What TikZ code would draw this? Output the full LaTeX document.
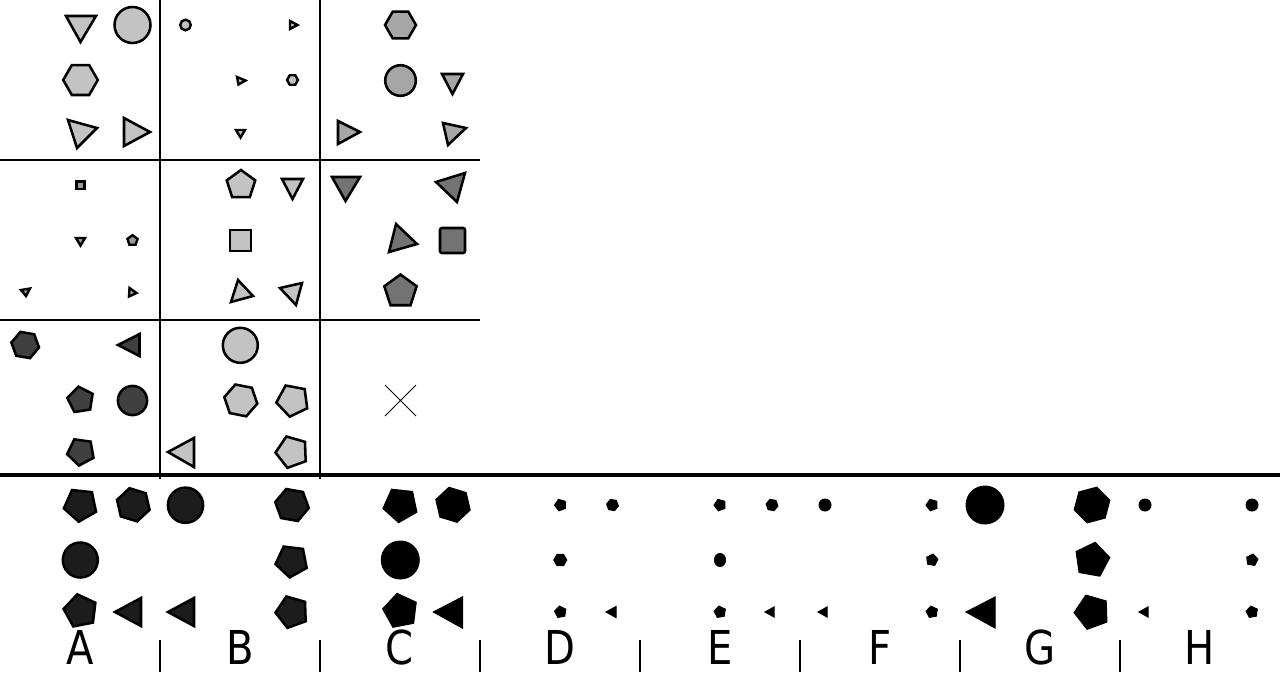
\documentclass[tikz,border=0pt]{standalone}
\usepackage{fontspec}
\newfontfamily\lblfont[FakeStretch=0.86]{DejaVu Sans}
\begin{document}
\begin{tikzpicture}[x=0.75pt,y=-0.75pt,
  sh/.style={draw=black,line width=1.9pt},
  tiny/.style={draw=black,line width=1.8pt},
  solid/.style={draw=black,fill=black,line width=0.75pt},
  grid/.style={draw=black,line width=1.5pt},
  lbl/.style={font=\lblfont\fontsize{35}{35}\selectfont,inner sep=0pt,anchor=base}]
\definecolor{ca}{HTML}{C3C3C3}
\definecolor{cb}{HTML}{A6A6A6}
\definecolor{cc}{HTML}{737373}
\definecolor{cd}{HTML}{404040}
\definecolor{ce}{HTML}{1C1C1C}
\definecolor{cf}{HTML}{999999}
\newcommand\pent[5]{\draw[#5,shift={(#1,#2)}] ({#4-90}:#3) -- ({#4-18}:#3) -- ({#4+54}:#3) -- ({#4+126}:#3) -- ({#4+198}:#3) -- cycle;}
\newcommand\hexa[5]{\draw[#5,shift={(#1,#2)}] ({#4}:#3) -- ({#4+60}:#3) -- ({#4+120}:#3) -- ({#4+180}:#3) -- ({#4+240}:#3) -- ({#4+300}:#3) -- cycle;}
\newcommand\crc[4]{\draw[#4] (#1,#2) circle[radius=#3];}
\useasboundingbox (0,0) rectangle (1280,672);
\fill[white] (0,0) rectangle (1280,672);
% grid
\draw[grid] (160,0) -- (160,479);
\draw[grid] (320,0) -- (320,479);
\draw[grid] (0,160) -- (480,160);
\draw[grid] (0,320) -- (480,320);
\draw[black,line width=3.4pt] (0,475) -- (1280,475);
% cell 1,1
\draw[sh,fill=ca] (66,16) -- (96,16) -- (80.5,42) -- cycle;
\crc{132.5}{25}{18}{sh,fill=ca}
\hexa{80.5}{80}{17.3}{0}{sh,fill=ca}
\draw[sh,fill=ca] (68,120) -- (97,128) -- (77,148) -- cycle;
\draw[sh,fill=ca] (124,118) -- (150,132) -- (124,146) -- cycle;
% cell 1,2
\crc{185.5}{25}{5.3}{tiny,fill=ca}
\draw[tiny,fill=ca] (290,21) -- (297.5,25) -- (290,29) -- cycle;
\draw[tiny,fill=ca] (237,77) -- (245.5,80.5) -- (238.5,84.5) -- cycle;
\hexa{292.5}{80}{5.5}{0}{tiny,fill=ca}
\draw[tiny,fill=ca] (236,130) -- (245,130) -- (240.5,137.5) -- cycle;
% cell 1,3
\hexa{400.5}{25}{15.5}{0}{sh,fill=cb}
\crc{400.5}{80.5}{15.3}{sh,fill=cb}
\draw[sh,fill=cb] (442,74) -- (463,74) -- (452.5,94) -- cycle;
\draw[sh,fill=cb] (338,121) -- (360,132) -- (338,144) -- cycle;
\draw[sh,fill=cb] (443,123) -- (466,128) -- (448,145) -- cycle;
% cell 2,1
\draw[tiny,fill=cf] (76.5,181.5) rectangle (84.5,189);
\draw[tiny,fill=cf] (76,238) -- (85,238) -- (80.5,245.5) -- cycle;
\pent{132.5}{240.5}{5.3}{0}{tiny,fill=cf}
\draw[tiny,fill=cf] (21,290) -- (30,288.5) -- (26,296) -- cycle;
\draw[tiny,fill=cf] (129.5,288) -- (136.5,293) -- (129,296.5) -- cycle;
% cell 2,2
\pent{241}{185}{15}{0}{sh,fill=ca}
\draw[sh,fill=ca] (282,179) -- (303,179) -- (292.5,199) -- cycle;
\draw[sh,fill=ca] (230,230) rectangle (251,251);
\draw[sh,fill=ca] (238,280) -- (253,296) -- (231,302) -- cycle;
\draw[sh,fill=ca] (280,288) -- (302,283) -- (296,305) -- cycle;
% cell 2,3
\draw[sh,fill=cc] (332,177) -- (360,177) -- (345.5,201) -- cycle;
\draw[sh,fill=cc] (436,182) -- (465,173) -- (457,202) -- cycle;
\draw[sh,fill=cc] (396,224) -- (417,244) -- (389,252) -- cycle;
\draw[sh,fill=cc,rounded corners=1.5] (440,228) rectangle (465,253);
\pent{400.5}{291.5}{17}{0}{sh,fill=cc}
% cell 3,1
\hexa{25.2}{345}{14}{10}{sh,fill=cd}
\draw[sh,fill=cd] (118,345) -- (139.5,334) -- (139.5,356) -- cycle;
\pent{80.6}{400}{13.5}{-9}{sh,fill=cd}
\crc{132.5}{400.5}{14.6}{sh,fill=cd}
\pent{80.9}{451.7}{14}{-28}{sh,fill=cd}
% cell 3,2
\crc{240.3}{345.3}{17.5}{sh,fill=ca}
\hexa{240.8}{400.4}{16.8}{11}{sh,fill=ca}
\pent{292.7}{400.4}{16.5}{-25.5}{sh,fill=ca}
\draw[sh,fill=ca] (168,452) -- (194,438) -- (194,467) -- cycle;
\pent{292}{452}{16.5}{-20}{sh,fill=ca}
% cell 3,3
\draw[black,line width=0.75pt] (385,385) -- (416,416) (385,416) -- (416,385);
% answer A
\pent{80.5}{504.8}{17}{-30}{sh,fill=ce}
\hexa{133.3}{504.8}{17}{17}{sh,fill=ce}
\crc{80.3}{560}{17.5}{sh,fill=ce}
\pent{80.5}{611}{17}{-11}{sh,fill=ce}
\draw[sh,fill=ce] (115,612) -- (141,598) -- (141,626) -- cycle;
% answer B
\crc{185.5}{505.2}{17.6}{sh,fill=ce}
\hexa{292}{505}{17}{10}{sh,fill=ce}
\pent{291.7}{561}{16.5}{-29}{sh,fill=ce}
\draw[sh,fill=ce] (168,612) -- (194,598) -- (194,626) -- cycle;
\pent{292}{612}{16.5}{-20}{sh,fill=ce}
% answer C
\pent{400.5}{504.8}{18}{-30}{solid}
\hexa{453}{504.8}{18}{17}{solid}
\crc{400.3}{560}{19}{solid}
\pent{400.5}{611}{18}{-11}{solid}
\draw[solid] (433.3,612) -- (462.7,596.7) -- (462.7,628.3) -- cycle;
% answer D
\pent{560.5}{505}{6}{-20}{solid}
\hexa{612.5}{505}{6}{10}{solid}
\hexa{560.3}{560}{6.5}{0}{solid}
\pent{560.5}{612}{6}{-10}{solid}
\draw[solid] (606,612) -- (616,606.5) -- (616,617.5) -- cycle;
% answer E
\pent{720}{505}{6}{-20}{solid}
\hexa{772}{505}{6}{10}{solid}
\crc{825}{505}{6}{solid}
\draw[solid] (720,560) ellipse[x radius=5.5,y radius=6.5];
\pent{720}{612}{6}{-10}{solid}
\draw[solid] (765,612) -- (774,607) -- (774,617) -- cycle;
\draw[solid] (818,612) -- (827,607) -- (827,617) -- cycle;
% answer F
\pent{932}{505}{6}{-20}{solid}
\crc{985}{505}{19}{solid}
\pent{932}{560}{6}{10}{solid}
\pent{932}{612}{6}{-10}{solid}
\draw[solid] (966,612) -- (995,597) -- (995,628) -- cycle;
% answer G
\hexa{1092}{505}{18.5}{-15}{solid}
\pent{1092}{560}{18}{10}{solid}
\pent{1092}{612}{18}{-20}{solid}
\crc{1145}{505}{6}{solid}
\draw[solid] (1139,612) -- (1148,607) -- (1148,617) -- cycle;
% answer H
\crc{1252}{505}{6}{solid}
\pent{1252}{560}{6}{10}{solid}
\pent{1252}{612}{6}{-10}{solid}
% separators and labels
\foreach \k in {1,...,7} \draw[grid] (160*\k,640) -- (160*\k,672);
\node[lbl] (lA) at (80,664) {A};
\node[lbl] (lB) at (240,664) {B};
\node[lbl] (lC) at (400,664) {C};
\node[lbl] (lD) at (560,664) {D};
\node[lbl] (lE) at (720,664) {E};
\node[lbl] (lF) at (880,664) {F};
\node[lbl] (lG) at (1040,664) {G};
\node[lbl] (lH) at (1200,664) {H};
\end{tikzpicture}
\end{document}
